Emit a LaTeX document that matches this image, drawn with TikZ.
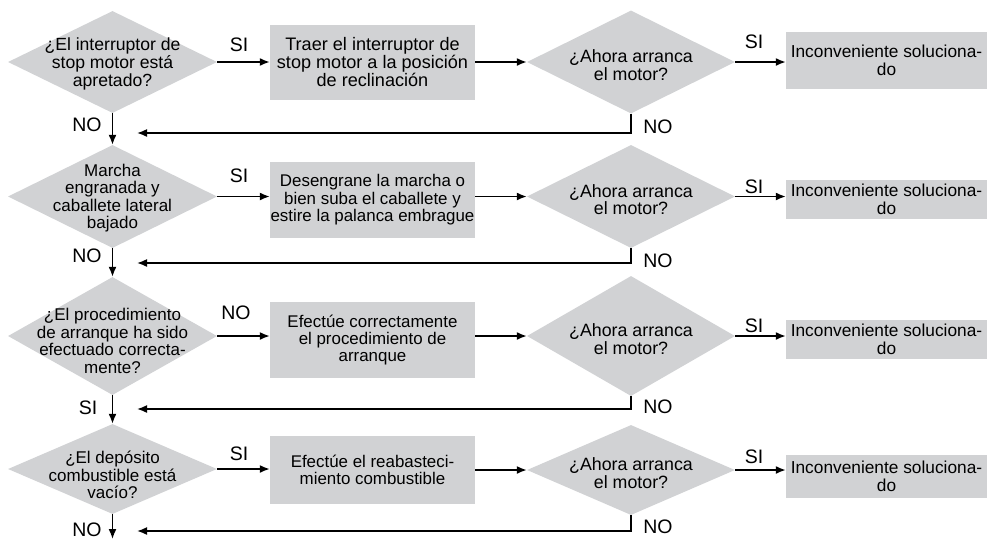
\documentclass[tikz,border=0pt]{standalone}
\usepackage{fontspec}
\setmainfont{Liberation Sans}
\usetikzlibrary{shapes.geometric,arrows.meta}
\definecolor{boxgray}{RGB}{209,210,212}
\begin{document}
\begin{tikzpicture}[x=1pt,y=-1pt,
  dia/.style={diamond, fill=boxgray, inner sep=0pt},
  box/.style={rectangle, fill=boxgray, inner sep=0pt, align=center, font=\fontsize{16.9}{17.4}\selectfont},
  txt/.style={align=center, inner sep=0pt, font=\fontsize{17}{17.4}\selectfont},
  rtxt/.style={txt, font=\fontsize{17.8}{17.6}\selectfont},
  cbox/.style={box, minimum width=201pt, font=\fontsize{17.3}{18}\selectfont},
  lbl/.style={inner sep=0pt, font=\fontsize{19.5}{20}\selectfont},
  arr/.style={line width=1.6pt, -{Latex[length=10pt,width=8pt]}},
]
\useasboundingbox (0,0) rectangle (987,539);

% ---------- Row 1
\node[dia, minimum width=209pt, minimum height=102pt] (L1) at (112.5,62) {};
\node[txt, font=\fontsize{17.6}{17.6}\selectfont] (L1t) at (112.5,64) {¿El interruptor de\\stop motor está\\apretado?};
\node[box, minimum width=205pt, minimum height=75pt, font=\fontsize{18.1}{17.6}\selectfont] (B1) at (372.5,62) {Traer el interruptor de\\stop motor a la posición\\de reclinación};
\node[dia, minimum width=208pt, minimum height=103pt] (R1) at (631,62) {};
\node[rtxt] (R1t) at (631,65) {¿Ahora arranca\\el motor?};
\node[cbox, minimum height=57pt] (C1) at (886.5,60.5) {Inconveniente soluciona-\\do};

% ---------- Row 2
\node[dia, minimum width=209pt, minimum height=103pt] (L2) at (112.5,196.5) {};
\node[txt] (L2t) at (112.5,198) {Marcha\\engranada y\\caballete lateral\\bajado};
\node[box, minimum width=205pt, minimum height=76pt] (B2) at (372.5,200) {Desengrane la marcha o\\bien suba el caballete y\\estire la palanca embrague};
\node[dia, minimum width=208pt, minimum height=103pt] (R2) at (631,196.5) {};
\node[rtxt] (R2t) at (631,199.5) {¿Ahora arranca\\el motor?};
\node[cbox, minimum height=39pt] (C2) at (886.5,199.5) {Inconveniente soluciona-\\do};

% ---------- Row 3
\node[dia, minimum width=209pt, minimum height=118pt] (L3) at (112.5,336) {};
\node[txt] (L3t) at (112.5,341) {¿El procedimiento\\de arranque ha sido\\efectuado correcta-\\mente?};
\node[box, minimum width=205pt, minimum height=76pt] (B3) at (372.5,340) {Efectúe correctamente\\el procedimiento de\\arranque};
\node[dia, minimum width=208pt, minimum height=120pt] (R3) at (631,336) {};
\node[rtxt] (R3t) at (631,339) {¿Ahora arranca\\el motor?};
\node[cbox, minimum height=39pt] (C3) at (886.5,339.5) {Inconveniente soluciona-\\do};

% ---------- Row 4
\node[dia, minimum width=209pt, minimum height=90pt] (L4) at (112.5,469) {};
\node[txt] (L4t) at (112.5,475) {¿El depósito\\combustible está\\vacío?};
\node[box, minimum width=205pt, minimum height=68pt] (B4) at (372.5,470) {Efectúe el reabasteci-\\miento combustible};
\node[dia, minimum width=208pt, minimum height=90pt] (R4) at (631,470) {};
\node[rtxt] (R4t) at (631,473) {¿Ahora arranca\\el motor?};
\node[cbox, minimum height=43pt] (C4) at (886.5,476.5) {Inconveniente soluciona-\\do};

% ---------- return points
\coordinate (ret1) at (137,133);
\coordinate (ret2) at (137,263);
\coordinate (ret3) at (137,409);
\coordinate (ret4) at (137,531);
\coordinate (endpt) at (112.5,539);

% ---------- connectors
\foreach \i in {1,2,3,4}{
  \draw[arr] (L\i.east) -- (L\i.east -| B\i.west);
  \draw[arr] (R\i.west -| B\i.east) -- (R\i.west);
  \draw[arr] (R\i.east) -- (R\i.east -| C\i.west);
  \draw[arr] (R\i.south) |- (ret\i);
}
\draw[arr] (L1.south) -- (L2.north);
\draw[arr] (L2.south) -- (L3.north);
\draw[arr] (L3.south) -- (L4.north);
\draw[arr] (L4.south) -- (endpt);

% ---------- labels
\node[lbl] (a1) at (239,45) {SI};
\node[lbl] (b1) at (87,125) {NO};
\node[lbl] (c1) at (754,42) {SI};
\node[lbl] (d1) at (658,127) {NO};

\node[lbl] (a2) at (239,176) {SI};
\node[lbl] (b2) at (87,256) {NO};
\node[lbl] (c2) at (754,187) {SI};
\node[lbl] (d2) at (658,261) {NO};

\node[lbl] (a3) at (236,313) {NO};
\node[lbl] (b3) at (88,408) {SI};
\node[lbl] (c3) at (754,326) {SI};
\node[lbl] (d3) at (658,407) {NO};

\node[lbl] (a4) at (239,454) {SI};
\node[lbl] (b4) at (87,530) {NO};
\node[lbl] (c4) at (754,457) {SI};
\node[lbl] (d4) at (658,527) {NO};
\end{tikzpicture}
\end{document}
